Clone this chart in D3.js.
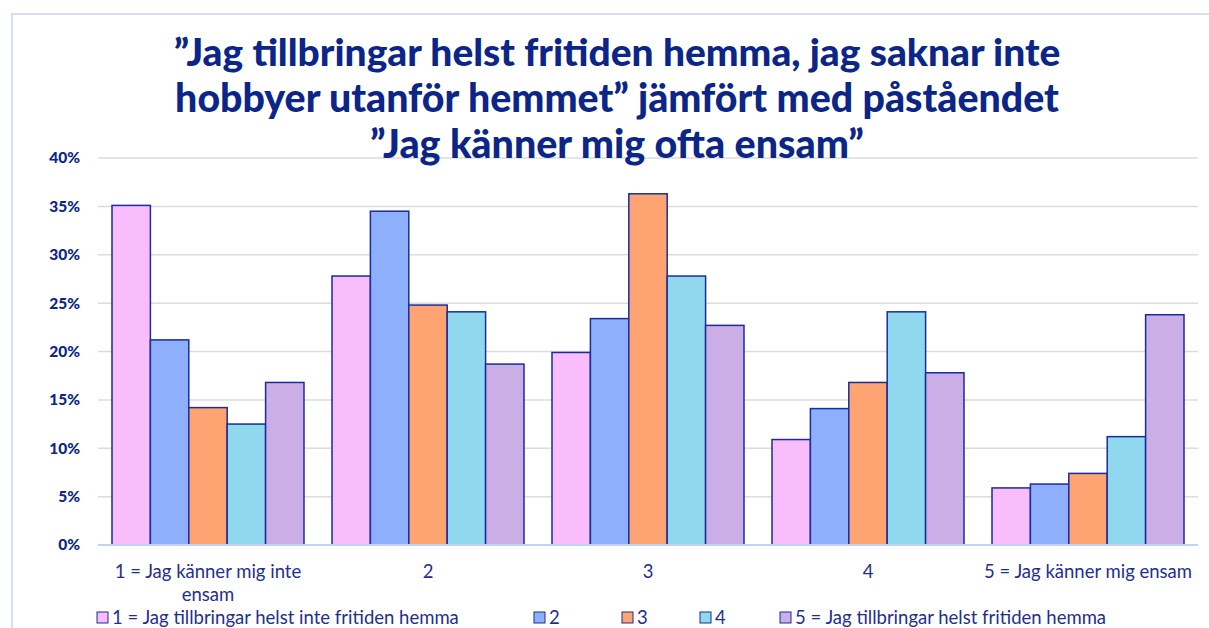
<!DOCTYPE html>
<html>
<head>
	<meta charset="UTF-8">
	<title>Jag tillbringar helst fritiden hemma</title>
	<script src="https://cdn.jsdelivr.net/npm/d3@7"></script>
	<style>
		body { margin: 0; background: #fff; }
		text { font-family: Lato, "Open Sans", sans-serif; }
	</style>
</head>
<body>
	<script type="text/javascript">
		// categories on the x axis
		var categories = ["1 = Jag känner mig inte ensam", "2", "3", "4", "5 = Jag känner mig ensam"];
		// series (legend)
		var seriesNames = ["1 = Jag tillbringar helst inte fritiden hemma", "2", "3", "4", "5 = Jag tillbringar helst fritiden hemma"];
		var seriesColors = ["#f9bdfb", "#8eb0fc", "#fea472", "#8fd8ed", "#cbaee6"];
		// values in percent, one array per series, one value per category
		var s1 = [35.1, 27.8, 19.9, 10.9, 5.9];
		var s2 = [21.2, 34.5, 23.4, 14.1, 6.3];
		var s3 = [14.2, 24.8, 36.3, 16.8, 7.4];
		var s4 = [12.5, 24.1, 27.8, 24.1, 11.2];
		var s5 = [16.8, 18.7, 22.7, 17.8, 23.8];
		var seriesValues = [s1, s2, s3, s4, s5];
		var yTicks = [0, 5, 10, 15, 20, 25, 30, 35, 40];
		var titleLines = ["\u201dJag tillbringar helst fritiden hemma, jag saknar inte",
			"hobbyer utanför hemmet\u201d jämfört med påståendet",
			"\u201dJag känner mig ofta ensam\u201d"];

		var navy = "#0b2688";
		var textBlue = "#1f2f8f";

		//create the canvas
		var canvas = d3.select("body")
						.append("svg")
						.attr("width", 1209)
						.attr("height", 628);

		// light blue frame
		canvas.append("rect")
			.attr("x", 12).attr("y", 14)
			.attr("width", 1240).attr("height", 700)
			.attr("fill", "none")
			.attr("stroke", "#d3def8")
			.attr("stroke-width", 2);

		var x0 = d3.scaleBand().domain(categories).range([98, 1198])
					.paddingInner(0.1273).paddingOuter(0.0636);
		var x1 = d3.scaleBand().domain(d3.range(seriesNames.length)).range([0, x0.bandwidth()]);
		var y = d3.scaleLinear().domain([0, 40]).range([545, 158]);

		// gridlines
		canvas.append("g").selectAll("line")
			.data(yTicks.filter(function(d) { return d > 0; }))
			.enter().append("line")
			.attr("x1", 98).attr("x2", 1198)
			.attr("y1", function(d) { return y(d); })
			.attr("y2", function(d) { return y(d); })
			.attr("stroke", "#dcdcdc")
			.attr("stroke-width", 1.5);

		// y axis labels
		var yAxis = d3.axisLeft(y).tickValues(yTicks).tickSize(0).tickPadding(0)
					.tickFormat(function(d) { return d + "%"; });
		var yg = canvas.append("g").attr("transform", "translate(80,0)").call(yAxis);
		yg.select(".domain").remove();
		yg.selectAll("text")
			.attr("fill", navy)
			.attr("font-family", "Lato, sans-serif")
			.attr("font-weight", "900")
			.attr("font-size", 15.5);

		// bars
		var groups = canvas.append("g").selectAll("g")
			.data(categories)
			.enter().append("g")
			.attr("transform", function(d) { return "translate(" + x0(d) + ",0)"; });

		groups.selectAll("rect")
			.data(function(d, ci) {
				return seriesValues.map(function(vals, si) { return { s: si, v: vals[ci] }; });
			})
			.enter().append("rect")
			.attr("x", function(d) { return x1(d.s); })
			.attr("width", x1.bandwidth())
			.attr("y", function(d) { return y(d.v); })
			.attr("height", function(d) { return y(0) - y(d.v); })
			.attr("fill", function(d) { return seriesColors[d.s]; })
			.attr("stroke", "#1a2c9c")
			.attr("stroke-width", 1.5);

		// x axis baseline
		canvas.append("line")
			.attr("x1", 98).attr("x2", 1198)
			.attr("y1", y(0)).attr("y2", y(0))
			.attr("stroke", "#c3d2f2")
			.attr("stroke-width", 2);

		// category labels (first one wraps)
		var catLines = [["1 = Jag känner mig inte", "ensam"], ["2"], ["3"], ["4"], ["5 = Jag känner mig ensam"]];
		canvas.append("g").selectAll("text")
			.data(categories)
			.enter().append("text")
			.attr("x", function(d) { return x0(d) + x0.bandwidth() / 2; })
			.attr("y", 578)
			.attr("text-anchor", "middle")
			.attr("font-size", 18.5)
			.attr("fill", textBlue)
			.each(function(d, i) {
				var t = d3.select(this);
				catLines[i].forEach(function(line, li) {
					t.append("tspan")
						.attr("x", x0(d) + x0.bandwidth() / 2)
						.attr("dy", li === 0 ? 0 : 23)
						.text(line);
				});
			});

		// legend
		var legendX = [97, 534, 622, 700, 780];
		var legend = canvas.append("g").selectAll("g")
			.data(seriesNames)
			.enter().append("g")
			.attr("transform", function(d, i) { return "translate(" + legendX[i] + ",612)"; });
		legend.append("rect")
			.attr("width", 11).attr("height", 11)
			.attr("fill", function(d, i) { return seriesColors[i]; })
			.attr("stroke", "#1a2c9c")
			.attr("stroke-width", 1);
		legend.append("text")
			.attr("x", 15).attr("y", 12)
			.attr("font-size", 18.5)
			.attr("fill", textBlue)
			.text(function(d) { return d; });

		// title
		var titleWidths = [887, 884, 494];
		var titleY = [66, 112, 158];
		canvas.append("g").selectAll("text")
			.data(titleLines)
			.enter().append("text")
			.attr("x", 617)
			.attr("y", function(d, i) { return titleY[i]; })
			.attr("text-anchor", "middle")
			.attr("font-weight", "900")
			.attr("font-size", 36)
			.attr("fill", navy)
			.text(function(d) { return d; })
			.each(function(d, i) {
				var w = this.getComputedTextLength();
				d3.select(this).attr("font-size", 36 * titleWidths[i] / w);
			});
	</script>
</body>
</html>
